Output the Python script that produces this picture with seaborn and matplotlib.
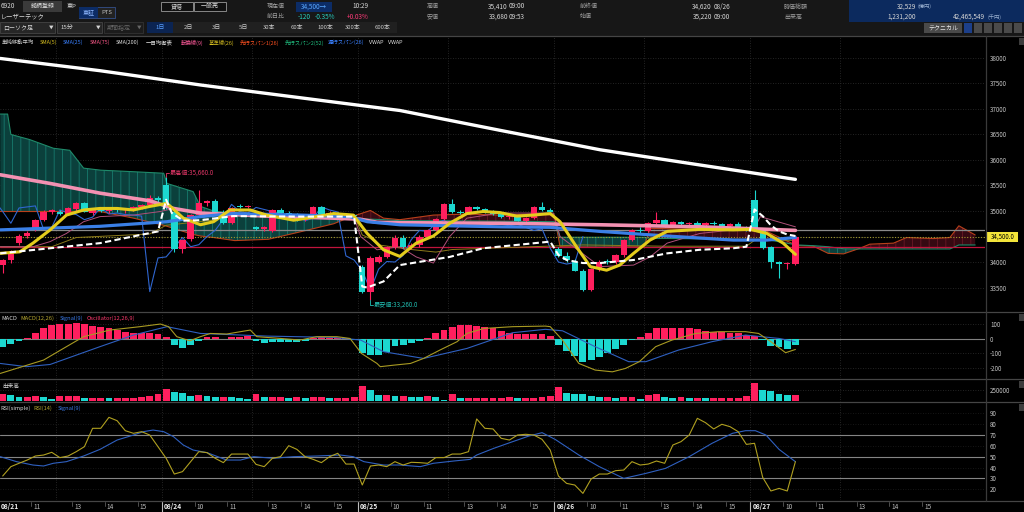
import matplotlib
matplotlib.use("Agg")
import matplotlib.pyplot as plt
from matplotlib.lines import Line2D
from matplotlib.patches import Rectangle
import numpy as np
import pandas as pd
import seaborn as sns

# 15-minute bars of 6920, index 0 = 08/21 09:00, 24 slots per trading day
bar_index = list(range(4, 102))
bar_open = [
    33940, 34040, 34370, 34510, 34630, 34820, 34990, 34980, 34950, 35030, 35150, 34960, 35040, 35000, 35040, 35010, 35030, 35070, 35120, 35250,
    35510, 34990, 34260, 34460, 34920, 35150, 35200, 34990, 34760, 35100, 35080, 34680, 34640, 34600, 35020, 34960, 34930, 34830, 34940, 35070, 34940, 34960, 34930, 34920,
    33910, 33420, 34010, 34100, 34290, 34480, 34300, 34340, 34500, 34620, 34840, 35130, 34990, 34960, 35070, 35030, 34990, 34940, 34880, 34900, 34810, 34860, 35080, 35020,
    34260, 34120, 34000, 33830, 33450, 33860, 34010, 34000, 34130, 34440, 34620, 34600, 34760, 34820, 34700, 34780, 34740, 34770, 34730, 34760, 34740, 34710, 34740, 34680,
    35220, 34640, 34300, 34000, 33960, 33970,
]
bar_high = [
    34060, 34240, 34540, 34600, 34850, 35020, 35040, 35010, 35080, 35180, 35170, 35060, 35080, 35060, 35070, 35050, 35100, 35140, 35320, 35290,
    35660, 35010, 34460, 34950, 35410, 35220, 35230, 35010, 35080, 35130, 35120, 34700, 34700, 35040, 35060, 35000, 34960, 34900, 35090, 35100, 35000, 34990, 34970, 34950,
    33950, 34110, 34130, 34320, 34520, 34530, 34380, 34520, 34640, 34860, 35150, 35230, 35010, 35090, 35100, 35060, 35020, 34960, 34920, 34910, 34880, 35100, 35180, 35050,
    34300, 34200, 34060, 33860, 33880, 34030, 34060, 34150, 34460, 34640, 34680, 34780, 34980, 34840, 34800, 34810, 34790, 34800, 34780, 34800, 34770, 34760, 34780, 34700,
    35410, 34660, 34320, 34020, 34000, 34520,
]
bar_low = [
    33780, 33990, 34340, 34470, 34600, 34800, 34940, 34930, 34930, 35000, 34980, 34930, 34980, 34960, 34990, 34970, 35000, 35030, 35100, 35180,
    35030, 34200, 34180, 34420, 34900, 35100, 34960, 34740, 34740, 35060, 35050, 34620, 34600, 34580, 34940, 34900, 34800, 34800, 34860, 34920, 34900, 34900, 34880, 34860,
    33400, 33260, 33980, 34080, 34260, 34280, 34250, 34300, 34480, 34600, 34820, 34970, 34940, 34940, 35020, 34960, 34920, 34870, 34840, 34800, 34790, 34840, 35000, 34960,
    34100, 34000, 33820, 33440, 33440, 33830, 33960, 33960, 34100, 34420, 34560, 34580, 34740, 34680, 34680, 34720, 34700, 34720, 34700, 34720, 34690, 34680, 34660, 34600,
    34600, 34250, 33890, 33680, 33860, 33950,
]
bar_close = [
    34040, 34200, 34510, 34560, 34820, 34990, 35010, 34950, 35060, 35160, 34990, 35040, 35000, 35040, 35010, 35030, 35070, 35110, 35250, 35210,
    35050, 34260, 34440, 34920, 35150, 35200, 34990, 34760, 35060, 35080, 35100, 34640, 34680, 35020, 34960, 34930, 34830, 34880, 35070, 34940, 34960, 34930, 34920, 34900,
    33420, 34080, 34100, 34290, 34480, 34300, 34340, 34500, 34620, 34840, 35130, 34990, 34960, 35070, 35030, 34990, 34940, 34880, 34900, 34810, 34860, 35080, 35020, 34980,
    34120, 34040, 33830, 33450, 33860, 34010, 34000, 34130, 34440, 34620, 34600, 34760, 34820, 34700, 34780, 34740, 34770, 34730, 34760, 34740, 34710, 34740, 34680, 34620,
    34650, 34270, 34000, 33960, 33990, 34500,
]
bar_volume = [
    160000, 136000, 96000, 96000, 112000, 80000, 32000, 112000, 112000, 112000, 72000, 72000, 72000, 56000, 56000, 72000, 72000, 96000, 112000, 160000,
    280000, 208000, 176000, 112000, 136000, 112000, 96000, 96000, 80000, 56000, 32000, 152000, 80000, 80000, 80000, 56000, 80000, 72000, 88000, 88000, 72000, 72000, 72000, 80000,
    352000, 256000, 136000, 136000, 112000, 112000, 96000, 80000, 112000, 96000, 16000, 160000, 72000, 72000, 72000, 72000, 72000, 72000, 88000, 72000, 72000, 72000, 80000, 112000,
    320000, 192000, 160000, 152000, 120000, 96000, 96000, 72000, 80000, 80000, 32000, 136000, 160000, 96000, 72000, 80000, 56000, 64000, 56000, 64000, 64000, 64000, 64000, 112000,
    432000, 256000, 240000, 160000, 136000, 136000,
]
macd_osc = [
    -59, -39, -14, 7, 41, 70, 93, 98, 98, 104, 98, 86, 82, 70, 59, 48, 41, 36, 41, 32,
    9, -43, -66, -43, -16, 14, 9, -5, 9, 14, 18, -14, -32, -20, -20, -20, -20, -14, 7, 9, 7, 5, 2, -9,
    -100, -111, -111, -88, -50, -43, -32, -14, 7, 41, 59, 82, 93, 93, 86, 77, 70, 54, 41, 32, 30, 32, 32, 18,
    -43, -82, -118, -156, -145, -122, -100, -73, -43, -9, 14, 41, 70, 70, 70, 70, 70, 64, 54, 48, 48, 41, 36, 27,
    18, -9, -50, -59, -73, -43,
]
rsi_14 = [
    32.3, 40.9, 44, 47, 50.7, 51.6, 54.1, 49.2, 50.7, 54.7, 59.3, 76.2, 76.2, 86.3, 83.2, 74, 71.6, 73.1, 70, 59.3,
    48.6, 34.1, 36.3, 45.5, 54.7, 53.8, 48.6, 44.6, 52.5, 52.5, 52.5, 43, 40.9, 48.6, 50.1, 60.2, 56.8, 50.1, 47.6, 44.6, 50.1, 53.2, 43.3, 43.3,
    24, 41.5, 42.4, 40.9, 45.5, 42.4, 44.9, 44.6, 44, 49.2, 49.2, 52.5, 52.5, 54.7, 84.8, 76.2, 75.6, 67, 65.4, 70, 70.7, 70, 66, 56.2,
    32.3, 25.5, 24, 16.3, 29.5, 34.1, 34.1, 37.2, 37.8, 45.5, 42.4, 43.3, 46.1, 44, 60.8, 63.9, 70, 85.4, 81.4, 75.6, 79.9, 77.7, 73.1, 61.4,
    62.4, 31, 18.5, 20.9, 18.5, 45.5,
]

sma200_x = [3.7, 15.9, 28.2, 40.4, 52.6, 64.9, 77.1, 89.4, 101]
sma200_y = [37990, 37750, 37470, 37220, 36970, 36580, 36200, 35900, 35620]
sma75_x = [3.7, 9.8, 15.9, 22, 24.9, 28.2, 36.3, 44.4, 47.7, 49.8, 52.6, 64.9, 77.1, 89.4, 101]
sma75_y = [35710, 35540, 35350, 35200, 35050, 34960, 34900, 34860, 34840, 34780, 34770, 34760, 34730, 34690, 34620]
sma25_x = [3.7, 15.9, 24.1, 28.2, 32.2, 40.4, 46.5, 48.6, 52.6, 64.9, 71, 77.1, 85.3, 93.4, 97.5, 101]
sma25_y = [34630, 34700, 34790, 34890, 34950, 34920, 34890, 34790, 34730, 34690, 34680, 34600, 34510, 34430, 34430, 34480]
sma5_x = [3.7, 6.1, 7.7, 9.8, 11.8, 13.9, 15.9, 18, 20, 22, 24.1, 26.1, 28.2, 29.8, 31.8, 34.3, 36.3, 39.6, 42.4, 44.5,
          46.9, 48.6, 50.6, 52.6, 54.6, 56.7, 58.7, 60.8, 62.8, 64.8, 66.9, 68.9, 71, 72.2, 74.2, 75.9, 77.9, 79.5, 81.2, 83.2,
          85.3, 89.3, 93.4, 95.5, 97.5, 99.5, 101]
sma5_y = [34170, 34200, 34370, 34630, 34920, 35020, 35050, 35050, 35020, 35090, 35150, 34860, 34730, 34790, 35020, 35020, 34920, 34820, 34890, 34950,
          34920, 34560, 34240, 34110, 34370, 34510, 34760, 34950, 34990, 34970, 34900, 34920, 34950, 34790, 34300, 33910, 33840, 33940, 34170, 34430,
          34600, 34640, 34630, 34640, 34560, 34370, 34150]
vwap_x = [3.7, 9.8, 15.9, 23, 24, 24.7, 26.1, 28.2, 32.2, 40.4, 47, 48, 48.6, 50.6, 52.6, 58.7, 62.8, 71,
          72, 73, 75, 77.1, 81.2, 85.3, 89.3, 93.4, 95, 96, 97, 98, 99, 100, 101]
vwap_y = [34170, 34270, 34370, 34600, 35220, 34960, 34810, 34820, 34900, 34890, 34890, 33520, 33500, 33620, 33940, 34100, 34270, 34400,
          34140, 34040, 33980, 33980, 34040, 34170, 34240, 34270, 34300, 35030, 34900, 34720, 34600, 34540, 34510]
tenkan_x = [3.7, 7.7, 9.8, 11.8, 13.9, 15.9, 20, 23.3, 24.9, 28.2, 32.2, 36.3, 40.4, 44.5, 46.9, 47.8, 49.8, 52.6, 54.6, 56.7,
            58.7, 60.8, 64.8, 71.4, 72.2, 75.5, 77.1, 81.2, 83.2, 85.3, 89.3, 93.4, 95.9, 96.7, 101]
tenkan_y = [34300, 34300, 34400, 34560, 34790, 34890, 34920, 34990, 35050, 34960, 34920, 34900, 34860, 34890, 34920, 34500, 34240, 34300, 34100, 33980,
            34500, 34860, 34960, 34960, 34500, 34100, 33910, 33940, 34100, 34370, 34560, 34630, 34630, 34890, 34690]
kijun_x = [3.7, 10, 13, 22, 24, 30, 31, 47, 48, 49, 50, 54, 57, 59, 75, 85, 95, 96, 101]
kijun_y = [34300, 34300, 34480, 34550, 34720, 34825, 34920, 34920, 34530, 34460, 34335, 34245, 34195, 34245, 34335, 34310, 34310, 34425, 34425]
cloud_x = [3.7, 4.6, 5.0, 7.3, 10.2, 12.2, 13.9, 16, 20, 23.7, 24.1, 27.3, 28.2, 29.8, 32.4, 36.5, 40.5, 44.5, 46.5, 49.0,
           50.6, 52.6, 56.7, 60.8, 64.9, 69, 71.5, 72.2, 77.1, 82.5, 83.2, 89.4, 93.4, 97.5, 101.2, 103.2, 105, 106.9, 108.9, 110.1,
           113, 114.6, 117.9, 119.9, 121, 123]
span1 = [34990, 34990, 34990, 34990, 34990, 34990, 34990, 34987, 34860, 34720, 34700, 34540, 34510, 34480, 34420, 34445, 34595, 34750, 34880, 35010,
         34860, 34830, 34920, 34940, 34920, 34940, 34920, 34300, 34290, 34300, 34660, 34640, 34630, 34600, 34320, 34310, 34170, 34160, 34270, 34350,
         34370, 34480, 34460, 34480, 34710, 34530]
span2 = [36900, 36900, 36500, 36400, 36230, 36190, 35840, 35800, 35770, 35740, 35540, 35380, 35090, 35000, 34950, 34920, 34890, 34860, 34850, 34840,
         34830, 34810, 34810, 34805, 34800, 34795, 34790, 34485, 34485, 34485, 34465, 34455, 34445, 34440, 34334, 34320, 34300, 34260, 34256, 34256,
         34256, 34256, 34256, 34256, 34334, 34334]
macd_x = [3.7, 9.0, 11.8, 13.9, 17.1, 20.8, 23.3, 24.3, 25.3, 26.9, 28.2, 29.4, 31.4, 33.1, 34.3, 35.1, 38, 40.4, 42.4, 44.9,
          46.5, 47.9, 49.8, 50.2, 51.8, 53.9, 55.5, 57.5, 59.6, 60.8, 62.9, 66.4, 70.4, 71, 72.5, 74.5, 76.5, 78.6, 80.2, 81.9,
          83.9, 85.9, 88.8, 91.6, 94.9, 96.5, 98, 99.8, 101]
macd_y = [-236, -145, -54, 14, 59, 82, 100, 82, 14, -14, 14, 36, 32, 48, 59, 14, 2, -9, 14, 14,
          2, -100, -168, -190, -180, -168, -134, -77, -20, 36, 70, 82, 86, 82, -9, -168, -213, -225, -202, -156,
          -54, -9, 36, 48, 48, 36, -20, -95, -73]
signal_x = [3.7, 6.9, 9.8, 15.9, 20, 24.1, 28.2, 36.3, 44.5, 47.8, 50.6, 55.5, 60.8, 66.4, 70.4, 72.5, 76.5, 80.6, 82.7, 86.7, 90.8, 94.9, 99, 101]
signal_y = [-168, -190, -175, -54, 25, 82, 36, 18, 9, -9, -88, -134, -66, 41, 64, 54, -54, -156, -156, -77, -20, 25, 2, -20]
rsi_sig_x = [3.7, 5.7, 7.7, 9, 10.2, 11.8, 13.9, 15.9, 18, 20, 21.2, 22.4, 23.7, 24.9, 26.1, 27.3, 29, 31.4, 33.1, 34.7,
             37.1, 39.6, 42.4, 45.3, 46.9, 48.2, 50.6, 52.6, 55.1, 56.7, 59.2, 61.2, 62, 64.1, 66.4, 68.4, 70, 71.6, 74.5, 77,
             80, 82.7, 85.1, 88, 90.8, 93.3, 94.9, 96.1, 97.4, 99, 101]
rsi_sig_y = [50.1, 45.5, 42.4, 41.5, 44, 45.5, 50.7, 56.8, 65.4, 70, 73.1, 74.6, 73.1, 68.5, 60.8, 56.2, 53.8, 47, 47, 50.1,
             48.6, 50.1, 50.7, 51.6, 50.1, 45.5, 42.4, 42.4, 40.9, 44, 46.1, 47.6, 51.6, 57.8, 63.9, 69.1, 72.2, 66, 51.6, 40.9,
             30.1, 34.7, 39.3, 50.1, 62.4, 71.6, 74, 74, 70, 56.8, 45.5]

day_labels = ["08/21", "08/24", "08/25", "08/26", "08/27"]
day_starts = [0, 24, 48, 72, 96]
hour_labels = ["10", "11", "13", "14", "15"]
hour_slots = [4, 8, 13, 17, 21]
prev_close = 34620
last_price = 34500
alert_level = 34300

W, H = 1024, 512
XL, XR = 3.67, 124.2
RED = "#ff1f5e"
CYAN = "#1cd8d0"
GRID = "#303030"
AXIS_TXT = "#c4c4c4"

sns.set_theme(style="dark", rc={"axes.facecolor": "black", "figure.facecolor": "black",
                                "axes.edgecolor": "black", "text.color": "#d0d0d0"})
plt.rcParams["font.family"] = ["Noto Sans CJK JP", "DejaVu Sans"]
plt.rcParams["hatch.linewidth"] = 0.6

fig = plt.figure(figsize=(10.24, 5.12), dpi=100)


def fx(px):
    return px / W


def fy(py):
    return 1 - py / H


def panel(top, bottom):
    return fig.add_axes([0, fy(bottom), fx(985), (bottom - top) / H])


grid_x = [s - 0.5 for s in day_starts] + [s + 10.5 for s in day_starts]


def style(a, lo, hi, ticks, labels):
    a.set_facecolor("black")
    for sp in a.spines.values():
        sp.set_visible(False)
    a.set_xticks([])
    a.yaxis.tick_right()
    a.set_yticks(ticks)
    a.set_yticklabels(labels)
    a.tick_params(axis="y", length=0, pad=3.6, labelsize=4.5, labelcolor=AXIS_TXT)
    a.set_xlabel("")
    a.set_ylabel("")
    a.grid(False)
    for gx in grid_x:
        a.axvline(gx, color=GRID, lw=0.6, ls=(0, (1, 2)), zorder=0)
    a.set_xlim(XL, XR)
    a.set_ylim(lo, hi)


def line(a, xs, ys, color, lw, z, ls="-"):
    sns.lineplot(x=xs, y=ys, ax=a, color=color, linewidth=lw, linestyle=ls, zorder=z,
                 estimator=None, sort=False, legend=False)


bars = pd.DataFrame({"i": bar_index, "open": bar_open, "high": bar_high, "low": bar_low,
                     "close": bar_close, "volume": bar_volume, "osc": macd_osc, "rsi": rsi_14})
bars["color"] = np.where(bars["close"] >= bars["open"], RED, CYAN)

# ---------------- price panel ----------------
ax = panel(36, 311)
for lvl in range(33500, 38001, 500):
    ax.axhline(lvl, color=GRID, lw=0.6, ls=(0, (1, 2)), zorder=0)

cx, s1, s2 = np.array(cloud_x), np.array(span1), np.array(span2)
ax.fill_between(cx, s1, s2, where=s2 >= s1, interpolate=True, facecolor="#0b403c",
                edgecolor="#177a6e", hatch="||", linewidth=0, zorder=1)
ax.fill_between(cx, s1, s2, where=s1 > s2, interpolate=True, facecolor="#360912",
                edgecolor="#6a1826", hatch="||", linewidth=0, zorder=1)
line(ax, cloud_x, span1, "#b8401a", 0.8, 2)
line(ax, cloud_x, span2, "#1f8a6a", 0.8, 2)

ax.axhline(prev_close, color="#8a8a8a", lw=0.9, zorder=2)
ax.axhline(last_price, color="#a39a2e", lw=0.8, ls=(0, (1, 1.5)), zorder=2)
ax.axhline(alert_level, color="#c0143c", lw=0.9, zorder=2)

line(ax, bars["i"] - 26, bars["close"], "#2f66d0", 0.8, 2)
line(ax, kijun_x, kijun_y, "#8c7a1a", 0.7, 2)
line(ax, tenkan_x, tenkan_y, "#b0507a", 0.7, 2)

body_lo = bars[["open", "close"]].min(axis=1)
body_h = (bars["close"] - bars["open"]).abs().clip(lower=20)
ax.vlines(bars["i"], bars["low"], bars["high"], colors=bars["color"], linewidth=0.8, zorder=3)
ax.bar(bars["i"], body_h, bottom=body_lo, width=0.78, color=bars["color"], linewidth=0, zorder=3)

line(ax, sma200_x, sma200_y, "#ffffff", 2.4, 4)
line(ax, sma75_x, sma75_y, "#f391b2", 2.6, 4)
line(ax, sma25_x, sma25_y, "#3a7fe6", 2.3, 4)
line(ax, sma5_x, sma5_y, "#e3cc1c", 2.2, 5)
line(ax, vwap_x, vwap_y, "#ffffff", 1.5, 6, ls=(0, (3, 1.6)))

hi = bars.loc[bars["high"].idxmax()]
ax.plot([hi.i, hi.i, hi.i + 0.35], [hi.high, hi.high + 85, hi.high + 85], color="#e8386a", lw=0.6, zorder=7)
ax.text(hi.i + 0.45, hi.high + 85, f"最高値:{hi.high:,.1f}", color="#e8386a", fontsize=4.4, va="center", zorder=7)
lo = bars.loc[bars["low"].idxmin()]
ax.plot([lo.i, lo.i, lo.i + 0.35], [lo.low, lo.low - 100, lo.low - 100], color="#22c4b8", lw=0.6, zorder=7)
ax.text(lo.i + 0.45, lo.low - 100, f"最安値:{lo.low:,.1f}", color="#22c4b8", fontsize=4.4, va="center", zorder=7)

price_ticks = [t for t in range(33500, 38001, 500) if t != last_price]
style(ax, 33040, 38430, price_ticks, [str(t) for t in price_ticks])

legend_items = [("単純移動平均", "#d0d0d0", 2), ("SMA(5)", "#d8c020", 40), ("SMA(25)", "#3a80ff", 63),
                ("SMA(75)", "#ff5a8a", 90), ("SMA(200)", "#e0e0e0", 116), ("一目均衡表", "#e0e0e0", 146),
                ("転換線(9)", "#ff5a9a", 181), ("基準線(26)", "#d8c020", 209), ("先行スパン1(26)", "#ff5020", 240),
                ("先行スパン2(52)", "#20c080", 285), ("遅行スパン(26)", "#3a80ff", 328), ("VWAP", "#e0e0e0", 369),
                ("VWAP", "#e0e0e0", 388)]
for s, c, px in legend_items:
    fig.text(fx(px), fy(42.5), s, color=c, fontsize=3.9, va="center")

# ---------------- MACD panel ----------------
ax2 = panel(313, 378)
ax2.axhline(0, color="#808080", lw=0.8, zorder=1)
for lvl in (100, -100, -200):
    ax2.axhline(lvl, color=GRID, lw=0.6, ls=(0, (1, 2)), zorder=0)
ax2.bar(bars["i"], bars["osc"], width=0.84, color=np.where(bars["osc"] >= 0, RED, CYAN), linewidth=0, zorder=2)
line(ax2, signal_x, signal_y, "#2f60c0", 0.8, 3)
line(ax2, macd_x, macd_y, "#a89a22", 0.8, 3)
style(ax2, -267, 175, [100, 0, -100, -200], ["100", "0", "-100", "-200"])
for s, c, px in [("MACD", "#d8d8d8", 1), ("MACD(12,26)", "#b8a830", 20), ("Signal(9)", "#3a7ae8", 60),
                 ("Oscillator(12,26,9)", "#ff3a6e", 87)]:
    fig.text(fx(px), fy(318.5), s, color=c, fontsize=4.1, va="center")

# ---------------- volume panel ----------------
ax3 = panel(380, 401.5)
ax3.axhline(250000, color=GRID, lw=0.6, ls=(0, (1, 2)), zorder=0)
vol_up = bars["volume"] >= bars["volume"].shift(1).fillna(0)
ax3.bar(bars["i"], bars["volume"], width=0.84, color=np.where(vol_up, RED, CYAN), linewidth=0, zorder=2)
style(ax3, -19000, 497000, [250000], ["250000"])
fig.text(fx(2), fy(386), "出来高", color="#d8d8d8", fontsize=4.1, va="center")

# ---------------- RSI panel ----------------
ax4 = panel(403, 500)
for lvl in (20, 40, 60, 80, 90):
    ax4.axhline(lvl, color="#1e1e1e", lw=0.6, ls=(0, (1, 2)), zorder=0)
for lvl in (30, 50, 70):
    ax4.axhline(lvl, color="#858585", lw=0.8, zorder=1)
line(ax4, rsi_sig_x, rsi_sig_y, "#2f60c0", 0.8, 3)
line(ax4, bars["i"], bars["rsi"], "#b0a020", 0.8, 3)
rsi_ticks = list(range(20, 91, 10))
style(ax4, 10.2, 99.5, rsi_ticks, [str(t) for t in rsi_ticks])
for s, c, px in [("RSI(simple)", "#d8d8d8", 0.5), ("RSI(14)", "#b8a830", 33), ("Signal(9)", "#3a7ae8", 58)]:
    fig.text(fx(px), fy(408), s, color=c, fontsize=4.1, va="center")


def to_px(i):
    return (i - XL) / (XR - XL) * 985


# time axis under the RSI panel
for lab, s in zip(day_labels, day_starts):
    t = s - 0.5
    if t < XL:
        fig.text(fx(1), fy(507), lab, color="#f0f0f0", fontsize=4.8, fontweight="bold", va="center")
    else:
        fig.add_artist(Line2D([fx(to_px(t))] * 2, [fy(502), fy(511.5)], transform=fig.transFigure, color="#bdbdbd", lw=0.8))
        fig.text(fx(to_px(t) + 2), fy(507), lab, color="#f0f0f0", fontsize=4.8, fontweight="bold", va="center")
    for hl, off in zip(hour_labels, hour_slots):
        t = s - 0.5 + off
        if XL < t < XR:
            fig.add_artist(Line2D([fx(to_px(t))] * 2, [fy(502), fy(506)], transform=fig.transFigure, color="#5a5a5a", lw=0.6))
            fig.text(fx(to_px(t) + 2), fy(507), hl, color="#bcbcbc", fontsize=4.6, va="center")

# panel separators
for py in (35.5, 312, 379, 402, 501):
    fig.add_artist(Line2D([0, 1], [fy(py), fy(py)], transform=fig.transFigure, color="#454545", lw=0.9))
fig.add_artist(Line2D([fx(985.5)] * 2, [fy(36), fy(501)], transform=fig.transFigure, color="#3a3a3a", lw=0.9))


def box(x0, y0, x1, y1, fc, ec="none", lw=0.6):
    fig.add_artist(Rectangle((fx(x0), fy(y1)), fx(x1 - x0), (y1 - y0) / H,
                             transform=fig.transFigure, facecolor=fc, edgecolor=ec, linewidth=lw))


def txt(x, y, s, color="#d6d6d6", size=4.6, ha="left", weight="normal"):
    fig.text(fx(x), fy(y), s, color=color, fontsize=size, ha=ha, va="center", fontweight=weight)


# last price tag and small panel buttons
box(987, 231.5, 1018, 241.5, "#f2e43a")
txt(1002.5, 236.5, f"{last_price:,.1f}", color="#000000", size=4.4, ha="center")
for py in (38, 314, 381, 404):
    box(1019, py, 1024, py + 7, "#3c3c3c")

# ---------------- header ----------------
LBL = "#a0a0a0"
box(0, 0, 1024, 35.5, "#171717")
txt(1, 6.5, "6920")
box(23, 1, 62, 11.5, "#3a3a3a")
txt(42.5, 6.3, "銘柄登録", ha="center", color="#e0e0e0", size=4.3)
txt(67, 6.5, "東P", size=4.3)
box(79, 7, 115, 17.5, "#222222", ec="#34508a")
box(79, 7, 98, 17.5, "#0c2c66")
txt(88.5, 12.3, "東証", ha="center", color="#8fb8ff", size=4.3)
txt(106.5, 12.3, "PTS", ha="center", color="#c0c0c0", size=4.3)
txt(1, 16.7, "レーザーテック", size=4.5)
box(160.5, 2, 192.5, 11, "#101010", ec="#9a9a9a")
txt(176.5, 6.5, "貸借", ha="center", size=4.3)
box(194, 2, 226, 11, "#101010", ec="#9a9a9a")
txt(210, 6.5, "一般売", ha="center", size=4.3)
txt(267, 6.5, "現在値", color=LBL, size=4.3)
box(296, 2, 332, 12, "#0c2c66")
txt(314, 7, "34,500→", ha="center", color="#5aa8ff")
txt(352, 6.5, "10:29")
txt(427, 6.5, "高値", color=LBL, size=4.3)
txt(508, 6.5, "35,410", ha="right")
txt(509, 6.5, "09:00")
txt(580, 6.5, "前終値", color=LBL, size=4.3)
txt(712, 6.5, "34,620", ha="right")
txt(714, 6.5, "08/26")
txt(784, 6.5, "時価総額", color=LBL, size=4.3)
box(849, 0, 1024, 22, "#0c2a5e")
txt(916, 6.5, "32,529", ha="right")
txt(918, 6.5, "(億円)", color="#9ab0d0", size=3.8)

txt(267, 16.7, "前日比", color=LBL, size=4.3)
txt(298, 16.7, "-120", color="#28d0c0")
txt(315, 16.7, "-0.35%", color="#28d0c0")
txt(347, 16.7, "+0.03%", color="#ff3a78")
txt(427, 16.7, "安値", color=LBL, size=4.3)
txt(508, 16.7, "33,680", ha="right")
txt(509, 16.7, "09:53")
txt(580, 16.7, "始値", color=LBL, size=4.3)
txt(712, 16.7, "35,220", ha="right")
txt(714, 16.7, "09:00")
txt(784, 16.7, "出来高", color=LBL, size=4.3)
txt(916, 16.7, "1,231,200", ha="right")
txt(985, 16.7, "42,465,549", ha="right")
txt(987, 16.7, "(千円)", color="#9ab0d0", size=3.8)

box(0, 22, 55, 33, "#262626", ec="#454545")
txt(3, 27.5, "ローソク足", size=4.3)
txt(51, 27.5, "▼", ha="center", size=3.3)
box(57, 22, 102, 33, "#262626", ec="#454545")
txt(60, 27.5, "15分", size=4.3)
txt(98, 27.5, "▼", ha="center", size=3.3)
box(104, 22, 143, 33, "#1c1c1c", ec="#333333")
txt(107, 27.5, "期間指定", color="#666666", size=4.3)
txt(139, 27.5, "▼", ha="center", color="#666666", size=3.3)
box(147, 22, 397, 33, "#202020")
box(147, 22, 173, 33, "#0b2452")
periods = ["1日", "2日", "3日", "5日", "30本", "60本", "100本", "300本", "600本"]
period_px = [160, 188, 216, 243, 269, 297, 325, 353, 383]
for k, (p, px) in enumerate(zip(periods, period_px)):
    txt(px, 27.5, p, ha="center", size=4.3, color="#5aa0ff" if k == 0 else "#c8c8c8")
box(924, 22.5, 962, 33, "#4a4a4a")
txt(943, 27.7, "テクニカル", ha="center", color="#e8e8e8", size=4.3)
for k, x0 in enumerate(range(964, 1024, 10)):
    box(x0, 23, x0 + 8, 32.5, "#1c3f8a" if k == 0 else "#4a4a4a")

fig.savefig("out.png", dpi=100, facecolor="black")
